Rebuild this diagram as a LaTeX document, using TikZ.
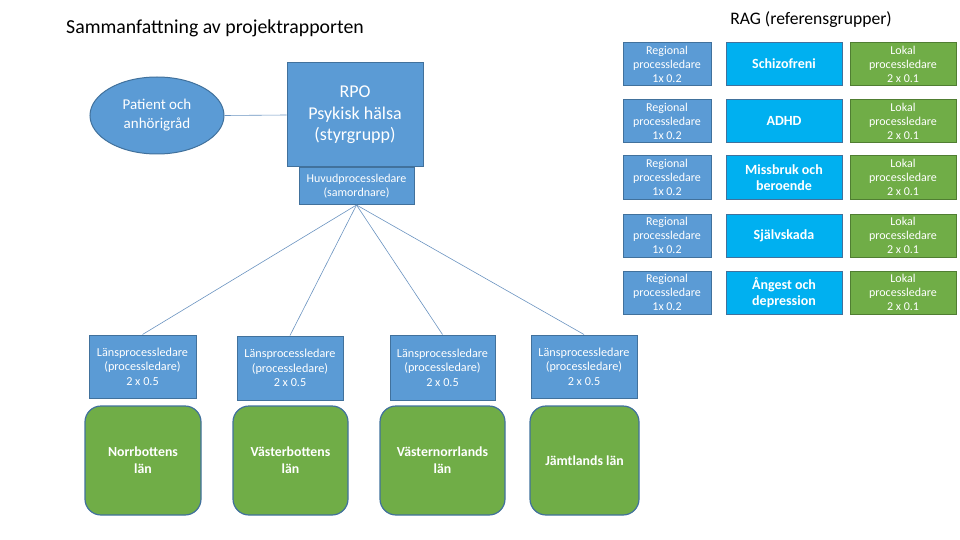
\documentclass[tikz,border=0pt]{standalone}
\usepackage{fontspec}
\setmainfont{Carlito}
\usetikzlibrary{shapes.geometric}
\definecolor{bfill}{HTML}{5B9BD5}
\definecolor{bdraw}{HTML}{41719C}
\definecolor{cfill}{HTML}{00B0F0}
\definecolor{gfill}{HTML}{70AD47}
\definecolor{gdraw}{HTML}{507E32}
\definecolor{lnk}{HTML}{6A93C0}
\tikzset{
  box/.style={draw=bdraw, line width=1pt, fill=bfill, text=white, align=center, inner sep=0pt},
  regbox/.style={box, minimum width=88pt, minimum height=43pt, font=\fontsize{12}{14}\selectfont},
  ragbox/.style={box, fill=cfill, minimum width=116pt, minimum height=43pt, font=\fontsize{14}{16.5}\selectfont\bfseries},
  lokbox/.style={box, fill=gfill, draw=gdraw, minimum width=106pt, minimum height=43pt, font=\fontsize{12}{14}\selectfont},
  lansbox/.style={box, minimum height=63pt, font=\fontsize{12.2}{14.5}\selectfont},
  lanbox/.style={box, fill=gfill, rounded corners=16pt, line width=1.2pt, minimum height=109pt, font=\fontsize{13.8}{17}\selectfont\bfseries},
  link/.style={draw=lnk, line width=0.6pt}
}
\begin{document}
\begin{tikzpicture}[x=1pt,y=-1pt]
\useasboundingbox (0,0) rectangle (960,540);
% titles
\node[anchor=west, inner sep=0pt, font=\fontsize{19.8}{22}\selectfont] (title) at (66,28) {Sammanfattning av projektrapporten};
\node[inner sep=0pt, font=\fontsize{17.6}{19}\selectfont] (ragtitle) at (811,20) {RAG (referensgrupper)};
% top left
\node[ellipse, box, minimum width=134pt, minimum height=77pt, font=\fontsize{15}{19}\selectfont] (pat) at (157,115.5) {Patient och\\anhörigråd};
\node[box, minimum width=136pt, minimum height=104pt, font=\fontsize{18}{21.5}\selectfont] (rpo) at (355,115) {RPO\\Psykisk hälsa\\(styrgrupp)};
\node[box, minimum width=115pt, minimum height=37pt, font=\fontsize{12}{14}\selectfont] (huvud) at (356.5,186) {Huvudprocessledare\\(samordnare)};
\draw[link] (pat.east) -- (rpo.west);
% county leaders
\node[lansbox, minimum width=107pt] (l1) at (142.5,366.5) {Länsprocessledare\\(processledare)\\2 x 0.5};
\node[lansbox, minimum width=106pt, minimum height=64pt] (l2) at (290,368) {Länsprocessledare\\(processledare)\\2 x 0.5};
\node[lansbox, minimum width=105pt, minimum height=65pt] (l3) at (442.5,367.5) {Länsprocessledare\\(processledare)\\2 x 0.5};
\node[lansbox, minimum width=106pt] (l4) at (584,366.5) {Länsprocessledare\\(processledare)\\2 x 0.5};
\foreach \n in {l1,l2,l3,l4} \draw[link] (huvud.south) -- (\n.north);
% counties
\node[lanbox, minimum width=116pt] (g1) at (143,460.5) {Norrbottens\\län};
\node[lanbox, minimum width=115pt] (g2) at (290.5,460.5) {Västerbottens\\län};
\node[lanbox, minimum width=125pt] (g3) at (442.5,460.5) {Västernorrlands\\län};
\node[lanbox, minimum width=109pt] (g4) at (584.5,460.5) {Jämtlands län};
% RAG grid
\node[regbox] (r1) at (667,64) {Regional\\processledare\\1x 0.2};
\node[regbox] (r2) at (667,121) {Regional\\processledare\\1x 0.2};
\node[regbox] (r3) at (667,177.5) {Regional\\processledare\\1x 0.2};
\node[regbox] (r4) at (667,235.5) {Regional\\processledare\\1x 0.2};
\node[regbox] (r5) at (667,292.5) {Regional\\processledare\\1x 0.2};
\node[ragbox] (c1) at (784,64) {Schizofreni};
\node[ragbox] (c2) at (784,121) {ADHD};
\node[ragbox] (c3) at (784,177.5) {Missbruk och\\beroende};
\node[ragbox] (c4) at (784,235.5) {Självskada};
\node[ragbox] (c5) at (784,292.5) {Ångest och\\depression};
\node[lokbox] (k1) at (903,64) {Lokal\\processledare\\2 x 0.1};
\node[lokbox] (k2) at (903,121) {Lokal\\processledare\\2 x 0.1};
\node[lokbox] (k3) at (903,177.5) {Lokal\\processledare\\2 x 0.1};
\node[lokbox] (k4) at (903,235.5) {Lokal\\processledare\\2 x 0.1};
\node[lokbox] (k5) at (903,292.5) {Lokal\\processledare\\2 x 0.1};
\end{tikzpicture}
\end{document}
